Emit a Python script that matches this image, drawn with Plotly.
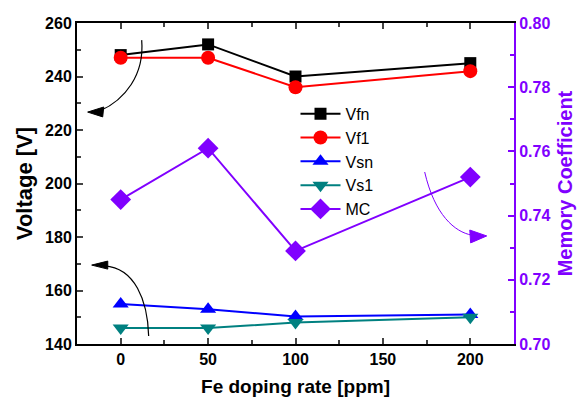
import plotly.graph_objects as go

doping = [0, 50, 100, 200]
vfn = [248, 252, 240, 245]
vf1 = [247, 247, 236, 242]
vsn = [155, 153, 150.3, 151]
vs1 = [146, 146, 148, 150]
mc = [0.745, 0.761, 0.729, 0.752]

x_ticks = [0, 50, 100, 150, 200]
y_ticks = [140, 160, 180, 200, 220, 240, 260]
y2_ticks = [0.70, 0.72, 0.74, 0.76, 0.78, 0.80]

PURPLE = "#8000FF"
fig = go.Figure()

def add(y, name, color, symbol, size, axis="y"):
    fig.add_trace(go.Scatter(x=doping, y=y, name=name, mode="lines+markers",
                             line=dict(color=color, width=2),
                             marker=dict(symbol=symbol, size=size, color=color),
                             yaxis=axis))

add(vfn, "Vfn", "black", "square", 12)
add(vf1, "Vf1", "#FF0000", "circle", 14)
add(vsn, "Vsn", "#0000FF", "triangle-up", 14)
add(vs1, "Vs1", "#008080", "triangle-down", 14)
add(mc, "MC", PURPLE, "diamond", 16, "y2")

shapes = [
    dict(type="path", xref="x", yref="y", path="M 12,253.6 C 13.7,240.6 2.3,231.2 -12,227.1",
         line=dict(color="black", width=1.2)),
    dict(type="path", xref="x", yref="y", path="M -18.9,226.7 L -9.7,228.6 L -10.3,224.9 Z",
         line=dict(color="black", width=1), fillcolor="black"),
    dict(type="path", xref="x", yref="y", path="M 16,143 C 15.4,156.4 8,168.4 -9.2,169.2",
         line=dict(color="black", width=1.2)),
    dict(type="path", xref="x", yref="y", path="M -16.6,169.5 L -7.4,171 L -7.4,168 Z",
         line=dict(color="black", width=1), fillcolor="black"),
    dict(type="path", xref="x", yref="y", path="M 173.9,204.3 C 179.6,188.2 191.1,181.9 200.8,180.7",
         line=dict(color=PURPLE, width=1)),
    dict(type="path", xref="x", yref="y", path="M 209.4,180.4 L 199.7,182.6 L 200.2,177.8 Z",
         line=dict(color=PURPLE, width=1), fillcolor=PURPLE),
]

tickfont = dict(family="Liberation Sans, Arial", size=16, color="black", weight="bold")
fig.update_layout(
    width=585, height=401,
    margin=dict(l=77, r=71, t=23, b=57, autoexpand=False),
    paper_bgcolor="white", plot_bgcolor="white",
    font=dict(family="Liberation Sans, Arial"),
    shapes=shapes,
    showlegend=True,
    legend=dict(x=0.5, y=0.77, xanchor="left", yanchor="top", bgcolor="rgba(0,0,0,0)",
                font=dict(size=16, color="black"), tracegroupgap=0, itemwidth=40),
    xaxis=dict(range=[-25, 225], tickvals=x_ticks, ticks="inside", ticklen=6, tickwidth=1.5,
               showline=True, linecolor="black", linewidth=2, mirror="ticks", showgrid=False,
               zeroline=False, tickfont=tickfont, automargin=False,
               minor=dict(ticks="inside", ticklen=4, dtick=25, tick0=0, tickwidth=1.5),
               title=dict(text="Fe doping rate [ppm]", font=dict(size=19, color="black", weight="bold"), standoff=12)),
    yaxis=dict(range=[140, 260], tickvals=y_ticks, ticks="inside", ticklen=6, tickwidth=1.5,
               showline=True, linecolor="black", linewidth=2, showgrid=False, zeroline=False,
               tickfont=tickfont, automargin=False,
               minor=dict(ticks="inside", ticklen=4, dtick=10, tick0=140, tickwidth=1.5),
               title=dict(text="Voltage [V]", font=dict(size=22, color="black", weight="bold"), standoff=6)),
    yaxis2=dict(range=[0.70, 0.80], tickvals=y2_ticks, tickformat=".2f", overlaying="y", side="right",
                ticks="inside", ticklen=6, tickwidth=1.5, tickcolor=PURPLE, automargin=False,
                showline=True, linecolor=PURPLE, linewidth=2, showgrid=False, zeroline=False,
                tickfont=dict(family="Liberation Sans, Arial", size=16, color=PURPLE, weight="bold"),
                minor=dict(ticks="inside", ticklen=4, dtick=0.01, tick0=0.70, tickwidth=1.5, tickcolor=PURPLE),
                title=dict(text="Memory Coefficient", font=dict(size=20, color=PURPLE, weight="bold"), standoff=9)),
)

fig.write_html("out.html")
